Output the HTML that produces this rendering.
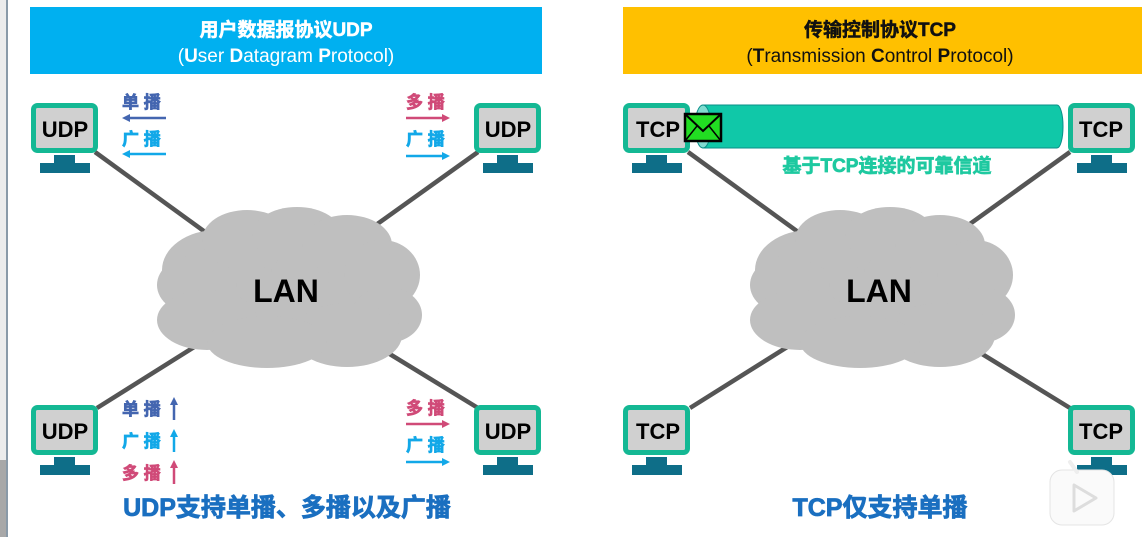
<!DOCTYPE html>
<html><head><meta charset="utf-8">
<style>
html,body{margin:0;padding:0;background:#fff;}
svg{display:block;font-family:"Liberation Sans","Noto Sans CJK SC",sans-serif;}
</style></head>
<body>
<svg width="1147" height="537" viewBox="0 0 1147 537" xmlns="http://www.w3.org/2000/svg">
<defs>
  <g id="cloud">
    <ellipse cx="0" cy="0" rx="100" ry="62" fill="#bfbfbf"/>
    <ellipse cx="-70" cy="-20" rx="55" ry="40" fill="#bfbfbf"/>
    <ellipse cx="-90" cy="-5" rx="40" ry="30" fill="#bfbfbf"/>
    <ellipse cx="-80" cy="30" rx="50" ry="30" fill="#bfbfbf"/>
    <ellipse cx="-40" cy="-50" rx="45" ry="30" fill="#bfbfbf"/>
    <ellipse cx="10" cy="-55" rx="45" ry="28" fill="#bfbfbf"/>
    <ellipse cx="60" cy="-45" rx="45" ry="30" fill="#bfbfbf"/>
    <ellipse cx="95" cy="-15" rx="38" ry="35" fill="#bfbfbf"/>
    <ellipse cx="100" cy="25" rx="35" ry="28" fill="#bfbfbf"/>
    <ellipse cx="60" cy="45" rx="55" ry="32" fill="#bfbfbf"/>
    <ellipse cx="-20" cy="52" rx="60" ry="26" fill="#bfbfbf"/>
  </g>
  <g id="pcT">
    <rect x="2.5" y="2.5" width="62" height="45" rx="4" fill="#d0d0d0" stroke="#14b894" stroke-width="5"/>
    <rect x="23" y="52" width="21" height="9" fill="#0e6e88"/>
    <rect x="9" y="60" width="50" height="10" fill="#0e6e88"/>
  </g>
</defs>
<rect x="0" y="0" width="7" height="537" fill="#ececec"/>
<rect x="0" y="460" width="7" height="77" fill="#a8a8a8"/>
<rect x="6" y="0" width="2" height="537" fill="#8a9aa8"/>

<rect x="30" y="7" width="512" height="67" fill="#00b0f0"/>
<text x="286" y="36" text-anchor="middle" font-size="19" font-weight="bold" fill="#fff" stroke="#fff" stroke-width="0.5">用户数据报协议UDP</text>
<text x="286" y="62" text-anchor="middle" font-size="19" fill="#fff">(<tspan font-weight="bold">U</tspan>ser <tspan font-weight="bold">D</tspan>atagram <tspan font-weight="bold">P</tspan>rotocol)</text>

<rect x="623" y="7" width="519" height="67" fill="#ffc000"/>
<text x="880" y="36" text-anchor="middle" font-size="19" font-weight="bold" fill="#111" stroke="#111" stroke-width="0.5">传输控制协议TCP</text>
<text x="880" y="62" text-anchor="middle" font-size="19" fill="#111">(<tspan font-weight="bold">T</tspan>ransmission <tspan font-weight="bold">C</tspan>ontrol <tspan font-weight="bold">P</tspan>rotocol)</text>

<g stroke="#555" stroke-width="4.5">
  <line x1="95" y1="152" x2="285" y2="290"/>
  <line x1="478" y1="152" x2="285" y2="290"/>
  <line x1="97" y1="408" x2="285" y2="290"/>
  <line x1="478" y1="408" x2="285" y2="290"/>
  <line x1="688" y1="152" x2="878" y2="290"/>
  <line x1="1070" y1="152" x2="878" y2="290"/>
  <line x1="690" y1="408" x2="878" y2="290"/>
  <line x1="1070" y1="408" x2="878" y2="290"/>
</g>

<use href="#cloud" x="287" y="290"/>
<use href="#cloud" x="880" y="290"/>
<text x="286" y="302" text-anchor="middle" font-size="32" font-weight="bold" fill="#000">LAN</text>
<text x="879" y="302" text-anchor="middle" font-size="32" font-weight="bold" fill="#000">LAN</text>

<rect x="697" y="105" width="366" height="43" rx="6" ry="21" fill="#10c8a8" stroke="#0a8f88" stroke-width="1"/>
<ellipse cx="703" cy="126.5" rx="8" ry="21.5" fill="#7fdcd0" stroke="#0a8f88" stroke-width="1"/>
<text x="887" y="172" text-anchor="middle" font-size="19" font-weight="bold" fill="#1ec9a0" stroke="#1ec9a0" stroke-width="0.7">基于TCP连接的可靠信道</text>

<use href="#pcT" x="31" y="103"/>
<use href="#pcT" x="474" y="103"/>
<use href="#pcT" x="31" y="405"/>
<use href="#pcT" x="474" y="405"/>
<use href="#pcT" x="623" y="103"/>
<use href="#pcT" x="1068" y="103"/>
<use href="#pcT" x="623" y="405"/>
<use href="#pcT" x="1068" y="405"/>

<g font-size="22" font-weight="bold" text-anchor="middle" fill="#000">
  <text x="65" y="137">UDP</text>
  <text x="508" y="137">UDP</text>
  <text x="65" y="439">UDP</text>
  <text x="508" y="439">UDP</text>
  <text x="658" y="137">TCP</text>
  <text x="1101" y="137">TCP</text>
  <text x="658" y="439">TCP</text>
  <text x="1101" y="439">TCP</text>
</g>

<rect x="685" y="114" width="36" height="27" fill="#22dd22" stroke="#000" stroke-width="2.5"/>
<polyline points="685,114 703,131 721,114" fill="none" stroke="#000" stroke-width="2"/>
<line x1="685" y1="141" x2="697" y2="126" stroke="#000" stroke-width="1.5"/>
<line x1="721" y1="141" x2="709" y2="126" stroke="#000" stroke-width="1.5"/>

<g font-size="17" font-weight="bold" stroke-width="0.7">
  <text x="122" y="108" fill="#4466b0" stroke="#4466b0">单 播</text>
  <text x="122" y="145" fill="#12a8e8" stroke="#12a8e8">广 播</text>
  <text x="406" y="108" fill="#d04a78" stroke="#d04a78">多 播</text>
  <text x="406" y="145" fill="#12a8e8" stroke="#12a8e8">广 播</text>
  <text x="122" y="415" fill="#4466b0" stroke="#4466b0">单 播</text>
  <text x="122" y="447" fill="#12a8e8" stroke="#12a8e8">广 播</text>
  <text x="122" y="479" fill="#d04a78" stroke="#d04a78">多 播</text>
  <text x="406" y="414" fill="#d04a78" stroke="#d04a78">多 播</text>
  <text x="406" y="451" fill="#12a8e8" stroke="#12a8e8">广 播</text>
</g>
<g stroke-width="2.5">
  <line x1="166" y1="118" x2="128" y2="118" stroke="#4466b0"/><polygon points="122,118 130,114 130,122" fill="#4466b0"/>
  <line x1="166" y1="154" x2="128" y2="154" stroke="#12a8e8"/><polygon points="122,154 130,150 130,158" fill="#12a8e8"/>
  <line x1="406" y1="118" x2="444" y2="118" stroke="#d04a78"/><polygon points="450,118 442,114 442,122" fill="#d04a78"/>
  <line x1="406" y1="156" x2="444" y2="156" stroke="#12a8e8"/><polygon points="450,156 442,152 442,160" fill="#12a8e8"/>
  <line x1="174" y1="420" x2="174" y2="404" stroke="#4466b0"/><polygon points="174,397 170,405 178,405" fill="#4466b0"/>
  <line x1="174" y1="452" x2="174" y2="436" stroke="#12a8e8"/><polygon points="174,429 170,437 178,437" fill="#12a8e8"/>
  <line x1="174" y1="484" x2="174" y2="467" stroke="#d04a78"/><polygon points="174,460 170,468 178,468" fill="#d04a78"/>
  <line x1="406" y1="424" x2="444" y2="424" stroke="#d04a78"/><polygon points="450,424 442,420 442,428" fill="#d04a78"/>
  <line x1="406" y1="462" x2="444" y2="462" stroke="#12a8e8"/><polygon points="450,462 442,458 442,466" fill="#12a8e8"/>
</g>

<text x="287" y="516" text-anchor="middle" font-size="25" font-weight="bold" fill="#1a6fc0" stroke="#1a6fc0" stroke-width="0.8">UDP支持单播、多播以及广播</text>
<text x="880" y="516" text-anchor="middle" font-size="25" font-weight="bold" fill="#1a6fc0" stroke="#1a6fc0" stroke-width="0.8">TCP仅支持单播</text>

<!-- play overlay -->
<rect x="1050" y="470" width="64" height="55" rx="12" fill="#fafafa" stroke="#e4e4e4" stroke-width="1"/>
<line x1="1070" y1="462" x2="1077" y2="472" stroke="#eee" stroke-width="4" stroke-linecap="round"/>
<polygon points="1074,485 1074,511 1096,498" fill="none" stroke="#ddd" stroke-width="3" stroke-linejoin="round"/>
</svg>
</body></html>
